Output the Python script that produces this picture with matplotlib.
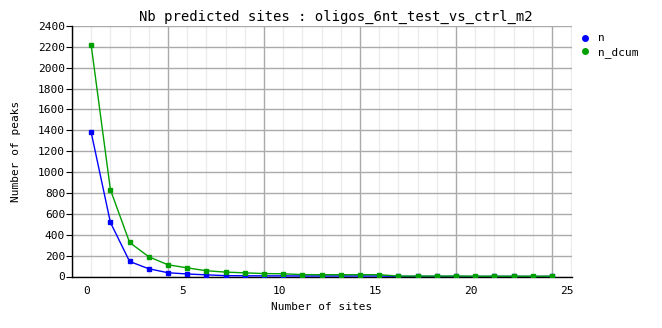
import matplotlib
matplotlib.use('Agg')
import matplotlib.pyplot as plt
import matplotlib.transforms as mtransforms
from matplotlib.ticker import MultipleLocator

plt.rcParams['font.family'] = ['DejaVu Sans Mono']

# data (points sit at x = 1..25)
sites = list(range(1, 26))
n = [1380, 518, 144, 74, 36, 24, 16, 8, 7, 6, 6, 5, 5, 5, 5, 5,
     1, 1, 1, 1, 0, 1, 1, 0, 1]
n_dcum = [2215, 832, 326, 189, 112, 83, 55, 42, 35, 28, 26, 18, 17, 17, 17, 17,
          4, 4, 4, 4, 3, 3, 3, 3, 3]
x_ticks = [0, 5, 10, 15, 20, 25]

blue = '#0000ff'
green = '#00a000'

fig = plt.figure(figsize=(6.62, 3.28), dpi=100)
ax = fig.add_axes([72 / 662, 1 - 276.5 / 328, 500 / 662, 250.5 / 328])

ax.plot(sites, n, color=blue, lw=1, marker='s', ms=2.8, label='n', zorder=3)
ax.plot(sites, n_dcum, color=green, lw=1, marker='s', ms=2.8, label='n_dcum', zorder=3)

ax.set_xlim(0, 26.04)
ax.set_ylim(0, 2400)
ax.set_xticks(x_ticks)
ax.set_yticks(range(0, 2401, 200))
ax.xaxis.set_minor_locator(MultipleLocator(1))
ax.grid(which='major', color='#aaaaaa', lw=1)
ax.grid(which='minor', axis='x', color='#ececec', lw=1)
ax.set_axisbelow(True)

for s in ['top', 'right']:
    ax.spines[s].set_visible(False)
for s in ['left', 'bottom']:
    ax.spines[s].set_color('black')
    ax.spines[s].set_linewidth(1)

ax.tick_params(axis='x', which='both', length=0, labelsize=8, pad=7)
ax.tick_params(axis='y', length=4, labelsize=8, pad=1, color='black')

# x tick labels sit a bit right of their grid lines in the original
shift = mtransforms.ScaledTranslation(0.15, 0, fig.dpi_scale_trans)
for lab in ax.get_xticklabels():
    lab.set_transform(lab.get_transform() + shift)

ax.set_xlabel('Number of sites', fontsize=8, labelpad=4)
ax.set_ylabel('Number of peaks', fontsize=8, labelpad=12)

fig.text(336 / 662, 1 - 17 / 328, 'Nb predicted sites : oligos_6nt_test_vs_ctrl_m2',
         ha='center', va='center', fontsize=10)

leg = ax.legend(loc='upper left', bbox_to_anchor=(1.0, 1.01), frameon=False,
                fontsize=8, handlelength=0.6, handletextpad=0.8, labelspacing=0.35,
                borderaxespad=0.5)
for h in leg.legend_handles:
    h.set_linestyle('none')
    h.set_marker('o')
    h.set_markersize(4)

fig.savefig('out.png', dpi=100)
